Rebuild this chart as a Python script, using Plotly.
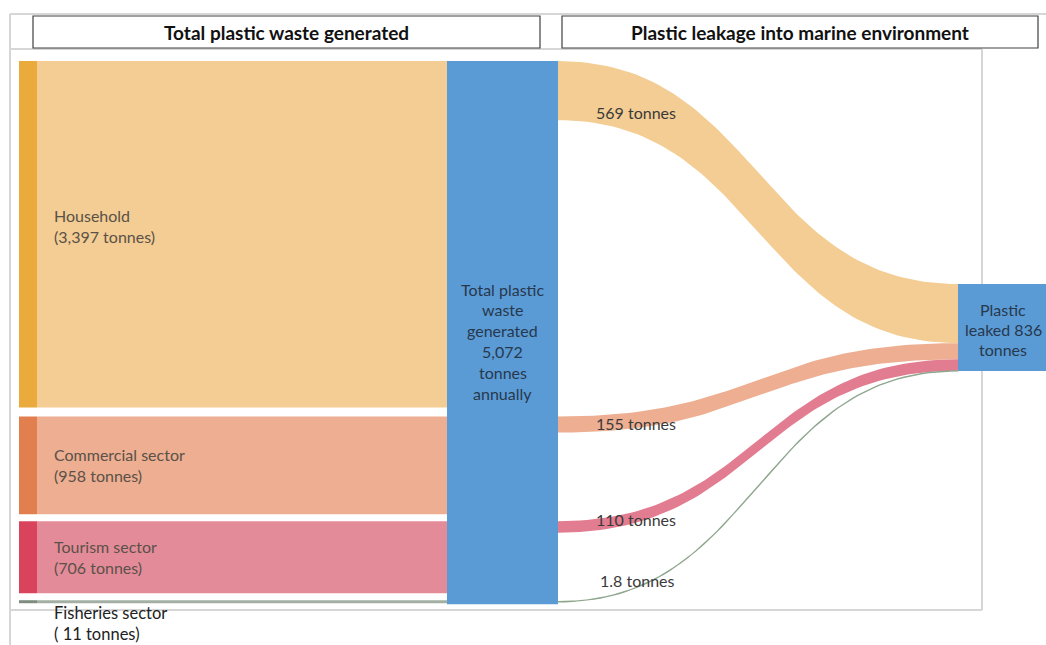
import numpy as np
import plotly.graph_objects as go

# ---------------- data ----------------
sectors = ["Household", "Commercial sector", "Tourism sector", "Fisheries sector"]
generated_t = [3397, 958, 706, 11]
leaked_t = [569, 155, 110, 1.8]
total_generated_t = 5072
total_leaked_t = 836
header_titles = ["Total plastic waste generated", "Plastic leakage into marine environment"]

# ---------------- styles / layout ----------------
W, H = 1046, 645
FONT = "Lato"
strip_colors = ["#EAAA3C", "#E27F4E", "#D9435B", "#7E8B7E"]
band_colors = ["#F3CD93", "#EDAE91", "#E48B9A", "#A3AFA3"]
flow_colors = ["#F3CD93", "#EDAE91", "#E27C90", "#8FA68F"]
NODE_BLUE = "#5B9BD5"
K_GEN = 0.102      # px per tonne, generated side
K_LEAK = 0.104     # px per tonne, leakage side
TOP = 61
GAPS = [9, 7, 7]
MIN_H = 3
STRIP_X = (19, 37)
MID_X = (447, 558)
RIGHT_X = (958, 1046)
RIGHT_TOP = 284
flow_label_dy = [51, 7, -2, -21]
flow_label_x = [594, 594, 594, 598]

fig = go.Figure()

# frame lines
frame_col = "#D6D6D6"
shapes = [
    dict(type="line", x0=10, y0=14, x1=1046, y1=14),
    dict(type="line", x0=10, y0=14, x1=10, y1=645),
    dict(type="line", x0=10, y0=49, x1=982, y1=49),
    dict(type="line", x0=982, y0=49, x1=982, y1=610),
    dict(type="line", x0=10, y0=610, x1=982, y1=610),
]
for s in shapes:
    s.update(xref="x", yref="y", line=dict(color=frame_col, width=2), layer="below")

# header boxes
for (x0, x1), title in zip([(33, 540), (562, 1038)], header_titles):
    shapes.append(dict(type="rect", xref="x", yref="y", x0=x0, x1=x1, y0=16, y1=48,
                       line=dict(color="#404040", width=1.2), fillcolor="white", layer="above"))

def rect_trace(x0, x1, y0, y1, color):
    return go.Scatter(x=[x0, x1, x1, x0, x0], y=[y0, y0, y1, y1, y0], mode="lines",
                      fill="toself", fillcolor=color, line=dict(width=0, color=color),
                      hoverinfo="skip", showlegend=False)

# left nodes + bands
tops = []
y = TOP
for i, (name, v) in enumerate(zip(sectors, generated_t)):
    h = max(v * K_GEN, MIN_H)
    tops.append((y, y + h))
    fig.add_trace(rect_trace(STRIP_X[1], MID_X[0], y, y + h, band_colors[i]))
    fig.add_trace(rect_trace(STRIP_X[0], STRIP_X[1], y, y + h, strip_colors[i]))
    if i < len(GAPS):
        y = y + h + GAPS[i]
    else:
        y = y + h
mid_bottom = tops[-1][1] + 1

# middle node
fig.add_trace(rect_trace(MID_X[0], MID_X[1], TOP, mid_bottom, NODE_BLUE))

# right node
right_h = total_leaked_t * K_LEAK
fig.add_trace(rect_trace(RIGHT_X[0], RIGHT_X[1], RIGHT_TOP, RIGHT_TOP + right_h, NODE_BLUE))

# flows
def bez(x0, y0, x1, y1, n=80):
    t = np.linspace(0, 1, n)
    xm = (x0 + x1) / 2
    xs = (1 - t) ** 3 * x0 + 3 * (1 - t) ** 2 * t * xm + 3 * (1 - t) * t ** 2 * xm + t ** 3 * x1
    ys = (1 - t) ** 3 * y0 + 3 * (1 - t) ** 2 * t * y0 + 3 * (1 - t) * t ** 2 * y1 + t ** 3 * y1
    return xs, ys

end_y = RIGHT_TOP
annotations = []
for i, v in enumerate(leaked_t):
    w = v * K_LEAK
    sy = tops[i][0] if i < 3 else (tops[i][0] + tops[i][1]) / 2
    xa, ya = bez(MID_X[1], sy, RIGHT_X[0], end_y)
    xb, yb = bez(MID_X[1], sy + w, RIGHT_X[0], end_y + w)
    xs = np.concatenate([xa, xb[::-1], xa[:1]])
    ys = np.concatenate([ya, yb[::-1], ya[:1]])
    lw = 1.2 if w < 2 else 0
    fig.add_trace(go.Scatter(x=xs, y=ys, mode="lines", fill="toself",
                             fillcolor=flow_colors[i], line=dict(width=lw, color=flow_colors[i]),
                             hoverinfo="skip", showlegend=False))
    label = f"{v:g} tonnes"
    annotations.append(dict(x=flow_label_x[i], y=sy + flow_label_dy[i], text=label,
                            xanchor="left", yanchor="middle", showarrow=False,
                            font=dict(family=FONT, size=16, color="#3A3A3A")))
    end_y += w

# sector labels
for i, (name, v) in enumerate(zip(sectors, generated_t)):
    y0, y1 = tops[i]
    if i < 3:
        cy = (y0 + y1) / 2 - (8 if i == 0 else 0)
        annotations.append(dict(x=52, y=cy, text=f"{name}<br>({v:,} tonnes)", xanchor="left",
                                yanchor="middle", align="left", showarrow=False,
                                font=dict(family=FONT, size=16, color="#5A5148")))
    else:
        annotations.append(dict(x=52, y=y1 + 20, text=f"{name}<br>( {v:,} tonnes)", xanchor="left",
                                yanchor="middle", align="left", showarrow=False,
                                font=dict(family=FONT, size=16.5, color="#222222")))

# middle node text
mid_lines = ["Total plastic", "waste", "generated", f"{total_generated_t:,}", "tonnes", "annually"]
for j, t in enumerate(mid_lines):
    annotations.append(dict(x=(MID_X[0] + MID_X[1]) / 2, y=289 + 20.8 * j, text=t, showarrow=False,
                            xanchor="center", yanchor="middle",
                            font=dict(family=FONT, size=16, color="#27384D")))

# right node text
right_lines = ["Plastic", f"leaked {total_leaked_t}", "tonnes"]
for j, t in enumerate(right_lines):
    annotations.append(dict(x=1003, y=309 + 20 * j, text=t, showarrow=False,
                            xanchor="center", yanchor="middle",
                            font=dict(family=FONT, size=16, color="#27384D")))

# header titles
for (x0, x1), title in zip([(33, 540), (562, 1038)], header_titles):
    annotations.append(dict(x=(x0 + x1) / 2, y=32, text=f"<b>{title}</b>", showarrow=False,
                            xanchor="center", yanchor="middle",
                            font=dict(family=FONT, size=19, color="#111111")))

fig.update_layout(
    width=W, height=H, margin=dict(l=0, r=0, t=0, b=0),
    paper_bgcolor="white", plot_bgcolor="white",
    xaxis=dict(range=[0, W], visible=False, fixedrange=True),
    yaxis=dict(range=[H, 0], visible=False, fixedrange=True),
    shapes=shapes, annotations=annotations, showlegend=False,
)

fig.write_html("out.html", config={"displayModeBar": False},
               post_script="document.body.style.margin='0';document.body.style.overflow='hidden';")
